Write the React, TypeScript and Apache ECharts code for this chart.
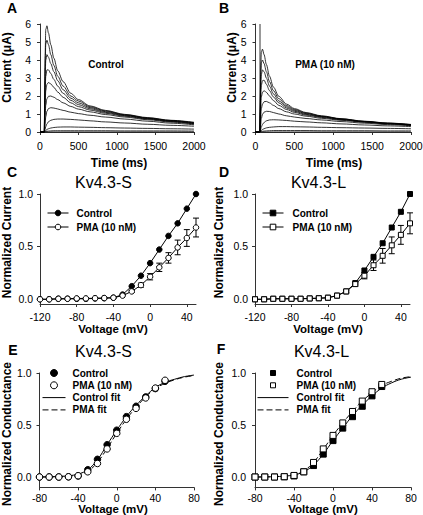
import { useEffect, useRef } from 'react';
import * as echarts from 'echarts';

const FONT = '"Liberation Sans", Arial, Helvetica, sans-serif';
const AX = '#333';

// ---------- Panels A / B : current traces ----------
const traceTimes = [0, 56, 60, 66, 75, 90, 110, 140, 180, 230, 300, 400, 500, 650, 850, 1100, 1400, 1700, 2000];
const controlTraces = [
  [0, 0, 1.5, 4.2, 5.7, 5.9, 5.5, 4.85, 4.1, 3.4, 2.8, 2.15, 1.8, 1.45, 1.2, 0.98, 0.8, 0.65, 0.54],
  [0, 0, 1.3, 3.6, 4.9, 5.1, 4.85, 4.3, 3.7, 3.1, 2.55, 2.0, 1.72, 1.4, 1.17, 0.96, 0.78, 0.64, 0.52],
  [0, 0, 1.0, 2.9, 4.0, 4.3, 4.15, 3.8, 3.35, 2.85, 2.35, 1.88, 1.62, 1.35, 1.13, 0.94, 0.76, 0.62, 0.5],
  [0, 0, 0.8, 2.2, 3.1, 3.45, 3.45, 3.25, 2.92, 2.55, 2.15, 1.76, 1.52, 1.29, 1.09, 0.91, 0.74, 0.6, 0.48],
  [0, 0, 0.5, 1.5, 2.3, 2.65, 2.75, 2.67, 2.48, 2.22, 1.93, 1.62, 1.41, 1.22, 1.04, 0.88, 0.72, 0.58, 0.46],
  [0, 0, 0.3, 0.9, 1.5, 1.85, 1.98, 2.0, 1.93, 1.8, 1.62, 1.42, 1.27, 1.12, 0.97, 0.83, 0.68, 0.55, 0.44],
  [0, 0, 0.15, 0.45, 0.85, 1.15, 1.3, 1.35, 1.33, 1.28, 1.2, 1.1, 1.02, 0.93, 0.83, 0.72, 0.6, 0.49, 0.4],
  [0, 0, 0.05, 0.15, 0.3, 0.45, 0.57, 0.65, 0.7, 0.72, 0.72, 0.7, 0.67, 0.62, 0.56, 0.5, 0.43, 0.37, 0.32],
  [0, 0, 0.02, 0.05, 0.09, 0.14, 0.18, 0.22, 0.25, 0.27, 0.28, 0.28, 0.27, 0.26, 0.24, 0.22, 0.2, 0.18, 0.16],
  [0, 0, 0.01, 0.02, 0.03, 0.04, 0.05, 0.06, 0.07, 0.07, 0.07, 0.07, 0.07, 0.07, 0.07, 0.06, 0.06, 0.06, 0.05],
  [0, 0, 0, 0, 0, 0, 0, 0, 0, 0, 0, 0, 0, 0, 0, 0, 0, 0, 0],
];
const pmaTraces = [
  [0, 0, 1.3, 3.4, 4.45, 4.6, 4.3, 3.75, 3.1, 2.5, 1.98, 1.55, 1.3, 1.08, 0.9, 0.74, 0.6, 0.5, 0.42],
  [0, 0, 1.1, 2.9, 3.85, 4.0, 3.8, 3.35, 2.8, 2.3, 1.85, 1.47, 1.25, 1.05, 0.88, 0.73, 0.59, 0.49, 0.41],
  [0, 0, 0.9, 2.4, 3.2, 3.45, 3.35, 3.0, 2.55, 2.12, 1.73, 1.4, 1.2, 1.02, 0.86, 0.72, 0.58, 0.48, 0.4],
  [0, 0, 0.7, 1.9, 2.6, 2.85, 2.88, 2.65, 2.3, 1.95, 1.62, 1.33, 1.15, 0.98, 0.84, 0.7, 0.57, 0.47, 0.39],
  [0, 0, 0.45, 1.3, 1.95, 2.2, 2.3, 2.2, 2.0, 1.75, 1.48, 1.25, 1.09, 0.94, 0.81, 0.68, 0.56, 0.46, 0.38],
  [0, 0, 0.25, 0.8, 1.3, 1.55, 1.68, 1.7, 1.62, 1.48, 1.3, 1.12, 1.0, 0.88, 0.76, 0.65, 0.54, 0.45, 0.37],
  [0, 0, 0.12, 0.4, 0.75, 0.98, 1.1, 1.15, 1.14, 1.08, 1.0, 0.9, 0.83, 0.75, 0.67, 0.58, 0.49, 0.41, 0.35],
  [0, 0, 0.05, 0.14, 0.28, 0.42, 0.53, 0.62, 0.67, 0.68, 0.67, 0.64, 0.6, 0.56, 0.51, 0.45, 0.39, 0.34, 0.3],
  [0, 0, 0.02, 0.05, 0.09, 0.14, 0.18, 0.23, 0.26, 0.28, 0.3, 0.3, 0.29, 0.28, 0.26, 0.24, 0.22, 0.2, 0.18],
  [0, 0, 0.01, 0.02, 0.03, 0.04, 0.05, 0.06, 0.07, 0.08, 0.08, 0.08, 0.08, 0.08, 0.07, 0.07, 0.07, 0.06, 0.06],
  [0, 0, 0, 0, 0, 0, 0, 0, 0, 0, 0, 0, 0, 0, 0, 0, 0, 0, 0],
];
const pmaArtifactTime = [58, 58];
const pmaArtifactCurrent = [0, 6];
const timeTicks = [0, 500, 1000, 1500, 2000];
const currentTicks = [0, 1, 2, 3, 4, 5, 6];

// ---------- Panels C / D : normalized I-V ----------
const ivVoltages = [-120, -110, -100, -90, -80, -70, -60, -50, -40, -30, -20, -10, 0, 10, 20, 30, 40, 50];
const ivSControl = [-0.005, -0.005, 0, 0, 0, 0, 0.003, 0.005, 0.01, 0.04, 0.12, 0.22, 0.34, 0.47, 0.6, 0.72, 0.86, 1.0];
const ivSPma = [-0.005, -0.005, 0, 0, 0.003, 0.003, 0.005, 0.007, 0.01, 0.03, 0.07, 0.13, 0.21, 0.3, 0.39, 0.49, 0.58, 0.68];
const ivSPmaErr = [0, 0, 0, 0, 0, 0, 0, 0, 0, 0, 0.01, 0.02, 0.03, 0.04, 0.05, 0.07, 0.08, 0.09];
const ivLControl = [-0.005, -0.005, 0, 0, 0, 0, 0.003, 0.005, 0.01, 0.03, 0.07, 0.15, 0.27, 0.4, 0.53, 0.68, 0.83, 1.0];
const ivLPma = [-0.005, -0.005, 0, 0, 0, 0, 0.003, 0.005, 0.01, 0.03, 0.07, 0.14, 0.22, 0.32, 0.41, 0.51, 0.61, 0.72];
const ivLPmaErr = [0, 0, 0, 0, 0, 0, 0, 0, 0, 0, 0.01, 0.02, 0.03, 0.05, 0.07, 0.08, 0.09, 0.1];
const ivTicks = [-120, -80, -40, 0, 40];
const normTicks = [0, 0.5, 1];

// ---------- Panels E / F : normalized conductance ----------
const gVoltages = [-80, -70, -60, -50, -40, -30, -20, -10, 0, 10, 20, 30, 40, 50];
const gSControl = [0, 0, 0, 0.002, 0.01, 0.07, 0.17, 0.31, 0.45, 0.58, 0.68, 0.77, 0.85, 0.92];
const gSPma = [0, 0, 0, 0.002, 0.012, 0.05, 0.13, 0.27, 0.42, 0.555, 0.66, 0.76, 0.855, 0.93];
const gLControl = [0, 0, 0, 0.002, 0.01, 0.05, 0.11, 0.22, 0.35, 0.47, 0.58, 0.68, 0.78, 0.87];
const gLPma = [0, 0, 0, 0.003, 0.015, 0.05, 0.14, 0.27, 0.4, 0.52, 0.63, 0.73, 0.82, 0.89];
const fitVoltages = [-80, -70, -60, -50, -40, -30, -20, -10, 0, 10, 20, 30, 40, 50, 60, 70, 80];
const fitSControl = [0, 0.002, 0.005, 0.012, 0.028, 0.07, 0.165, 0.31, 0.45, 0.58, 0.69, 0.78, 0.86, 0.91, 0.94, 0.965, 0.98];
const fitSPma = [0, 0.001, 0.004, 0.01, 0.022, 0.055, 0.14, 0.275, 0.42, 0.555, 0.67, 0.77, 0.85, 0.9, 0.935, 0.96, 0.975];
const fitLControl = [0, 0.001, 0.003, 0.008, 0.02, 0.05, 0.115, 0.22, 0.35, 0.47, 0.59, 0.69, 0.78, 0.855, 0.905, 0.94, 0.96];
const fitLPma = [0, 0.001, 0.004, 0.01, 0.025, 0.06, 0.14, 0.265, 0.4, 0.52, 0.63, 0.73, 0.81, 0.88, 0.92, 0.95, 0.965];
const gTicks = [-80, -40, 0, 40, 80];

const pairs = (xs: number[], ys: number[]) => xs.map((x, i) => [x, ys[i]]);
const triples = (xs: number[], ys: number[], es: number[]) => xs.map((x, i) => [x, ys[i], es[i]]);

const LABEL = { fontSize: 10.5, fontFamily: FONT, color: '#000' };
const SQUARE_ICON = 'path://M0,0H10V10H0Z';

function xAxis(gridIndex: number, min: number, max: number, ticks: number[], margin: number) {
  return {
    type: 'value', gridIndex, min, max,
    axisLine: { onZero: false, lineStyle: { color: AX, width: 1 } },
    axisTick: { show: true, length: 3, customValues: ticks, lineStyle: { color: AX, width: 1 } },
    axisLabel: { ...LABEL, customValues: ticks, margin, formatter: (v: number) => String(v) },
    splitLine: { show: false },
  };
}
function yAxis(gridIndex: number, min: number, max: number, ticks: number[], margin: number, fixed: boolean) {
  return {
    type: 'value', gridIndex, min, max,
    axisLine: { show: true, onZero: false, lineStyle: { color: AX, width: 1 } },
    axisTick: { show: true, length: 3, customValues: ticks, lineStyle: { color: AX, width: 1 } },
    axisLabel: {
      ...LABEL, customValues: ticks, margin,
      formatter: (v: number) => (fixed ? v.toFixed(1) : String(v)),
    },
    splitLine: { show: false },
  };
}

function errorBars(axis: number, data: number[][]) {
  return {
    type: 'custom', xAxisIndex: axis, yAxisIndex: axis, z: 2, silent: true,
    data,
    renderItem: (_p: any, api: any) => {
      const x = api.value(0), y = api.value(1), e = api.value(2);
      if (!e) return null;
      const t = api.coord([x, y + e]);
      const b = api.coord([x, y - e]);
      const w = 3;
      const st = { stroke: '#000', lineWidth: 1 };
      return {
        type: 'group',
        children: [
          { type: 'line', shape: { x1: t[0], y1: t[1], x2: b[0], y2: b[1] }, style: st },
          { type: 'line', shape: { x1: t[0] - w, y1: t[1], x2: t[0] + w, y2: t[1] }, style: st },
          { type: 'line', shape: { x1: b[0] - w, y1: b[1], x2: b[0] + w, y2: b[1] }, style: st },
        ],
      };
    },
  };
}

function markerLine(name: string, axis: number, data: number[][], symbol: string, size: number, filled: boolean) {
  return {
    name, type: 'line', xAxisIndex: axis, yAxisIndex: axis, data, symbol, symbolSize: size, z: filled ? 3 : 4,
    itemStyle: { color: filled ? '#000' : '#fff', borderColor: '#000', borderWidth: 1 },
    lineStyle: { color: '#000', width: 1 },
    emphasis: { disabled: true },
  };
}
function scatter(name: string, axis: number, data: number[][], symbol: string, size: number, filled: boolean) {
  return {
    name, type: 'scatter', xAxisIndex: axis, yAxisIndex: axis, data, symbol, symbolSize: size, z: filled ? 4 : 5,
    itemStyle: { color: filled ? '#000' : '#fff', borderColor: '#000', borderWidth: 1, opacity: 1 },
    emphasis: { disabled: true },
  };
}
function fitLine(name: string, axis: number, data: number[][], dashed: boolean) {
  return {
    name, type: 'line', xAxisIndex: axis, yAxisIndex: axis, data, symbol: 'none', smooth: 0.4, z: 2,
    itemStyle: { color: '#000' },
    lineStyle: { color: '#000', width: 1, type: dashed ? [6, 3] : 'solid' },
    emphasis: { disabled: true },
  };
}
function traceSeries(axis: number, ys: number[], xs: number[]) {
  return {
    type: 'line', xAxisIndex: axis, yAxisIndex: axis, data: pairs(xs, ys), symbol: 'none',
    smooth: 0.3, smoothMonotone: 'x', silent: true,
    lineStyle: { color: '#000', width: 0.8 },
  };
}
function legend(left: number, top: number, names: any[], itemWidth: number, itemHeight: number, itemGap: number, padLeft: number) {
  return {
    orient: 'vertical', left, top, padding: 0, itemWidth, itemHeight, itemGap,
    selectedMode: false, data: names, symbolKeepAspect: true,
    formatter: (n: string) => n.split(':')[1],
    itemStyle: { borderWidth: 1 },
    lineStyle: { width: 1 },
    textStyle: { fontSize: 10, fontWeight: 'bold', fontFamily: FONT, color: '#000', padding: [0, 0, 0, padLeft] },
  };
}
function txt(text: string, x: number, y: number, size: number, bold: boolean, rot = 0) {
  return {
    type: 'text', x, y, rotation: rot, silent: true,
    style: { text, fontSize: size, fontWeight: bold ? 'bold' : 'normal', fontFamily: FONT, fill: '#000', align: 'center', verticalAlign: 'middle' },
  };
}

export default function App() {
  const ref = useRef<HTMLDivElement>(null);
  useEffect(() => {
    if (!ref.current) return;
    const chart = echarts.init(ref.current, undefined, { renderer: 'svg' });
    const grid = (left: number, top: number, width: number, height: number) => ({ left, top, width, height, outerBoundsMode: 'none' });
    const R = Math.PI / 2;
    const option: any = {
      animation: false,
      backgroundColor: '#fff',
      grid: [
        grid(40, 24, 154, 108),
        grid(255.5, 24, 155.5, 108),
        grid(40, 194, 156, 110),
        grid(255, 194, 155, 110),
        grid(39.5, 373, 154.5, 114.4),
        grid(255, 373, 156, 114.4),
      ],
      xAxis: [
        xAxis(0, 0, 2000, timeTicks, 8),
        xAxis(1, 0, 2000, timeTicks, 8),
        xAxis(2, -120, 50, ivTicks, 7),
        xAxis(3, -120, 50, ivTicks, 7),
        xAxis(4, -80, 80, gTicks, 5),
        xAxis(5, -80, 80, gTicks, 5),
      ],
      yAxis: [
        yAxis(0, 0, 6, currentTicks, 9, false),
        yAxis(1, 0, 6, currentTicks, 9, false),
        yAxis(2, -0.05, 1, normTicks, 7, true),
        yAxis(3, -0.05, 1, normTicks, 7, true),
        yAxis(4, -0.1, 1, normTicks, 8, true),
        yAxis(5, -0.1, 1, normTicks, 9, true),
      ],
      legend: [
        legend(47, 208, ['C:Control', 'C:PMA (10 nM)'], 21, 7, 4, 3),
        legend(262, 208, ['D:Control', 'D:PMA (10 nM)'], 21, 7, 4, 4),
        legend(42, 368, ['E:Control', 'E:PMA (10 nM)', { name: 'E:Control fit', itemStyle: { opacity: 0 } }, { name: 'E:PMA fit', itemStyle: { opacity: 0 } }], 23, 7, 2.3, 2),
        legend(257, 368, [
          { name: 'F:Control', icon: SQUARE_ICON },
          { name: 'F:PMA (10 nM)', icon: SQUARE_ICON },
          { name: 'F:Control fit', itemStyle: { opacity: 0 } },
          { name: 'F:PMA fit', itemStyle: { opacity: 0 } },
        ], 31, 5, 2.3, 3),
      ],
      series: [
        ...controlTraces.map((tr) => traceSeries(0, tr, traceTimes)),
        ...pmaTraces.map((tr) => traceSeries(1, tr, traceTimes)),
        { ...traceSeries(1, pmaArtifactCurrent, pmaArtifactTime), smooth: false },
        markerLine('C:Control', 2, pairs(ivVoltages, ivSControl), 'circle', 5.5, true),
        errorBars(2, triples(ivVoltages, ivSPma, ivSPmaErr)),
        markerLine('C:PMA (10 nM)', 2, pairs(ivVoltages, ivSPma), 'circle', 5.5, false),
        markerLine('D:Control', 3, pairs(ivVoltages, ivLControl), 'rect', 5, true),
        errorBars(3, triples(ivVoltages, ivLPma, ivLPmaErr)),
        markerLine('D:PMA (10 nM)', 3, pairs(ivVoltages, ivLPma), 'rect', 5, false),
        fitLine('E:Control fit', 4, pairs(fitVoltages, fitSControl), false),
        fitLine('E:PMA fit', 4, pairs(fitVoltages, fitSPma), true),
        scatter('E:Control', 4, pairs(gVoltages, gSControl), 'circle', 6.5, true),
        scatter('E:PMA (10 nM)', 4, pairs(gVoltages, gSPma), 'circle', 6.5, false),
        fitLine('F:Control fit', 5, pairs(fitVoltages, fitLControl), false),
        fitLine('F:PMA fit', 5, pairs(fitVoltages, fitLPma), true),
        scatter('F:Control', 5, pairs(gVoltages, gLControl), 'rect', 6, true),
        scatter('F:PMA (10 nM)', 5, pairs(gVoltages, gLPma), 'rect', 6, false),
      ],
      graphic: [
        txt('A', 12, 8, 14, true),
        txt('B', 224, 8, 14, true),
        txt('C', 12, 172, 14, true),
        txt('D', 224, 172, 14, true),
        txt('E', 13, 350, 14, true),
        txt('F', 221, 349, 14, true),
        txt('Control', 106, 64, 10, true),
        txt('PMA (10 nM)', 325, 64, 10, true),
        txt('Kv4.3-S', 103.5, 182, 16, false),
        txt('Kv4.3-L', 318.5, 182, 16, false),
        txt('Kv4.3-S', 103.5, 351.5, 16, false),
        txt('Kv4.3-L', 321.5, 351.5, 16, false),
        txt('Time (ms)', 119, 163, 12, true),
        txt('Time (ms)', 334, 163, 12, true),
        txt('Voltage (mV)', 113, 329, 11.5, true),
        txt('Voltage (mV)', 328, 329, 11.5, true),
        txt('Voltage (mV)', 113, 508.5, 11.5, true),
        txt('Voltage (mV)', 323, 508.5, 11.5, true),
        txt('Current (μA)', 7, 67.5, 12, true, R),
        txt('Current (μA)', 231.5, 67.5, 12, true, R),
        txt('Normalized Current', 7, 242.5, 12, true, R),
        txt('Normalized Current', 219, 242.5, 12, true, R),
        txt('Normalized Conductance', 7, 434, 12, true, R),
        txt('Normalized Conductance', 219, 434, 12, true, R),
      ],
    };
    chart.setOption(option);
    return () => chart.dispose();
  }, []);
  return <div ref={ref} style={{ position: 'fixed', left: 0, top: 0, width: 423, height: 515, background: '#fff' }} />;
}
